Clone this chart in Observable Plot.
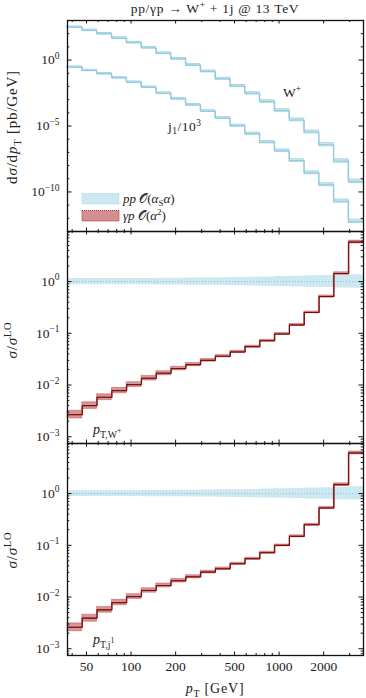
<!DOCTYPE html>
<html><head><meta charset="utf-8">
<script src="https://cdn.jsdelivr.net/npm/d3@7"></script>
<script src="https://cdn.jsdelivr.net/npm/@observablehq/plot@0.6"></script>
<style>
body{margin:0;background:#fff;}
#wrap{position:relative;width:366px;height:698px;overflow:hidden;background:#fff;}
#wrap svg{position:absolute;left:0;}
</style></head><body><div id="wrap"></div>
<script>
// ---- data ----
const binEdges = [37.2, 46.8, 58.9, 74.2, 93.4, 117.6, 148.0, 186.4, 234.6, 295.4, 371.8, 468.1, 589.3, 741.9, 934.0, 1175.8, 1480.3, 1863.6, 2346.2, 2953.7, 3718.5];
// d sigma / d pT [pb/GeV]
const wplusXsec = [309, 178, 98, 46, 21, 8.5, 3.3, 1.25, 0.42, 0.138, 0.038, 0.0107, 0.0030, 7.2e-4, 1.5e-4, 2.9e-5, 3.5e-6, 3.8e-7, 2.2e-8, 6.3e-10];
const jet1Xsec = [0.29, 0.162, 0.091, 0.045, 0.021, 0.0087, 0.0031, 0.00115, 4.0e-4, 1.35e-4, 4.0e-5, 1.05e-5, 2.6e-6, 5.9e-7, 1.35e-7, 2.4e-8, 2.8e-9, 3.5e-10, 2.0e-11, 5.8e-13];
// pp O(as a) ratio band (lower / upper)
const ppLoW = [0.87,0.87,0.87,0.87,0.87,0.87,0.86,0.86,0.85,0.85,0.84,0.83,0.82,0.81,0.80,0.79,0.78,0.77,0.75,0.74];
const ppHiW = [1.15,1.15,1.15,1.15,1.15,1.15,1.16,1.16,1.17,1.18,1.19,1.20,1.21,1.23,1.25,1.27,1.29,1.31,1.34,1.36];
const ppLoJ = [0.88,0.88,0.88,0.88,0.88,0.87,0.87,0.87,0.86,0.86,0.85,0.84,0.83,0.82,0.81,0.80,0.79,0.78,0.76,0.75];
const ppHiJ = [1.14,1.14,1.14,1.14,1.14,1.15,1.15,1.16,1.16,1.17,1.18,1.19,1.20,1.22,1.24,1.26,1.28,1.30,1.33,1.35];
// gamma p O(a^2) ratio to LO and relative band half-width
const gpRatioW = [0.00267, 0.0040, 0.0058, 0.0078, 0.0102, 0.0135, 0.0169, 0.0208, 0.0248, 0.0300, 0.0359, 0.0436, 0.0552, 0.072, 0.097, 0.145, 0.253, 0.514, 1.43, 5.8];
const gpErrW = [0.19,0.16,0.14,0.13,0.115,0.11,0.095,0.085,0.075,0.065,0.055,0.05,0.045,0.045,0.045,0.045,0.045,0.05,0.06,0.07];
const gpRatioJ = [0.0026, 0.0039, 0.00565, 0.0078, 0.0102, 0.0134, 0.0167, 0.0206, 0.0246, 0.0303, 0.0352, 0.044, 0.055, 0.072, 0.0995, 0.149, 0.25, 0.526, 1.49, 6.1];
const gpErrJ = [0.19,0.17,0.14,0.13,0.115,0.105,0.095,0.085,0.075,0.065,0.06,0.05,0.045,0.045,0.045,0.045,0.045,0.05,0.06,0.07];
// ticks
const xMajorTicks = [50, 100, 200, 500, 1000, 2000];
const xMajorLabels = ["50", "100", "200", "500", "1000", "2000"];
const xMinorTicks = [40, 60, 70, 80, 90, 300, 400, 600, 700, 800, 900, 3000];
const topMajorTicks = [1, 1e-5, 1e-10];
const topMajorLabels = ["10^0", "10^−5", "10^−10"];
const topMinorTicks = [1e3,1e2,1e1,1e-1,1e-2,1e-3,1e-4,1e-6,1e-7,1e-8,1e-9,1e-11,1e-12,1e-13];
const ratioMajorTicks = [1, 0.1, 0.01, 0.001];
const ratioMajorLabels = ["10^0", "10^−1", "10^−2", "10^−3"];
const ratioMinorMult = [2,3,4,5,6,7,8,9];
const ratioDecades = [1e-4, 1e-3, 1e-2, 1e-1, 1];

const FONT = "'Liberation Serif', 'DejaVu Serif', serif";
const TXT = "#222";
const W = 366, ML = 67, MR = 3, FW = W - ML - MR;
const xDomain = [binEdges[0], binEdges[binEdges.length - 1]];
const ratioDomain = [7.4e-4, 9.3];
const ratioMinor = ratioDecades.flatMap(d => ratioMinorMult.map(m => m * d)).filter(v => v > ratioDomain[0] && v < ratioDomain[1]);

function rowsOf(vals, f) {
  return binEdges.map((e, i) => { const k = Math.min(i, vals.length - 1); return Object.assign({x: e}, f(k)); });
}

function frameMarks(H, yMajor, yMinor, yLabels, showXLabels) {
  const marks = [
    Plot.tickX(xMajorTicks, {x: d => d, insetTop: H - 3.5, stroke: "#111"}),
    Plot.tickX(xMajorTicks, {x: d => d, insetBottom: H - 3.5, stroke: "#111"}),
    Plot.tickX(xMinorTicks, {x: d => d, insetTop: H - 2, stroke: "#111"}),
    Plot.tickX(xMinorTicks, {x: d => d, insetBottom: H - 2, stroke: "#111"}),
    Plot.tickY(yMajor, {y: d => d, insetRight: FW - 4.5, stroke: "#111"}),
    Plot.tickY(yMajor, {y: d => d, insetLeft: FW - 4.5, stroke: "#111"}),
    Plot.tickY(yMinor, {y: d => d, insetRight: FW - 2.3, stroke: "#111"}),
    Plot.tickY(yMinor, {y: d => d, insetLeft: FW - 2.3, stroke: "#111"}),
    Plot.frame({stroke: "#111", strokeWidth: 1.3}),
    Plot.text(yMajor, {y: d => d, text: (d, i) => yLabels[i], frameAnchor: "left", dx: -8, textAnchor: "end", fontSize: 13.5, fill: TXT})
  ];
  if (showXLabels) marks.push(Plot.text(xMajorTicks, {x: d => d, text: (d, i) => xMajorLabels[i], frameAnchor: "bottom", dy: 15, fontSize: 13.5, fill: TXT}));
  return marks;
}

function mkPlot({height, marginTop, marginBottom, yDomain, marks}) {
  const p = Plot.plot({
    width: W, height, marginLeft: ML, marginRight: MR, marginTop, marginBottom,
    x: {type: "log", domain: xDomain, axis: null},
    y: {type: "log", domain: yDomain, axis: null},
    style: {background: "transparent", overflow: "visible", fontFamily: FONT},
    marks
  });
  // render "10^k" tick labels with a real superscript
  d3.select(p).selectAll("text").each(function () {
    const m = this.textContent.match(/^10\^(.+)$/);
    if (!m) return;
    const t = d3.select(this);
    t.text("");
    t.append("tspan").text("10");
    t.append("tspan").attr("dy", -5.5).attr("font-size", 9.5).text(m[1]);
  });
  return p;
}

const blueFill = "#cde8f1", blueLine = "#a6d5e6", blueDot = "#82c0d6";
const redFill = "#c46a6a", redLine = "#a82424", redDot = "#6e0a0a";

// --- panel 1 ---
const H1 = 211;
const wRows = rowsOf(wplusXsec, k => ({v: wplusXsec[k], lo: wplusXsec[k] * ppLoW[k], hi: wplusXsec[k] * ppHiW[k]}));
const jRows = rowsOf(jet1Xsec, k => ({v: jet1Xsec[k], lo: jet1Xsec[k] * ppLoJ[k], hi: jet1Xsec[k] * ppHiJ[k]}));
const p1 = mkPlot({
  height: 20 + H1 + 1, marginTop: 20, marginBottom: 1, yDomain: [1e-13, 1e3],
  marks: [
    Plot.areaY(wRows, {x: "x", y1: "lo", y2: "hi", curve: "step-after", fill: blueFill, stroke: blueLine, strokeWidth: 1}),
    Plot.line(wRows, {x: "x", y: "v", curve: "step-after", stroke: blueDot, strokeWidth: 1, strokeDasharray: "1,1.5"}),
    Plot.areaY(jRows, {x: "x", y1: "lo", y2: "hi", curve: "step-after", fill: blueFill, stroke: blueLine, strokeWidth: 1}),
    Plot.line(jRows, {x: "x", y: "v", curve: "step-after", stroke: blueDot, strokeWidth: 1, strokeDasharray: "1,1.5"}),
    ...frameMarks(H1, topMajorTicks, topMinorTicks, topMajorLabels, false)
  ]
});

function ratioMarks(ratio, err, lo, hi) {
  const rows = rowsOf(ratio, k => ({r: ratio[k], rlo: ratio[k] / (1 + err[k]), rhi: ratio[k] * (1 + err[k]), blo: lo[k], bhi: hi[k]}));
  return [
    Plot.areaY(rows, {x: "x", y1: "blo", y2: "bhi", curve: "step-after", fill: blueFill}),
    Plot.ruleY([1], {stroke: blueDot, strokeWidth: 1, strokeDasharray: "1,2"}),
    Plot.areaY(rows, {x: "x", y1: "rlo", y2: "rhi", curve: "step-after", fill: redFill, fillOpacity: 0.7, stroke: redLine, strokeWidth: 0.7, strokeDasharray: "1,1", strokeOpacity: 0.55}),
    Plot.line(rows, {x: "x", y: "r", curve: "step-after", stroke: redLine, strokeWidth: 1.1}),
    Plot.line(rows, {x: "x", y: "r", curve: "step-after", stroke: redDot, strokeWidth: 1, strokeDasharray: "1,1"})
  ];
}

const H2 = 212;
const p2 = mkPlot({
  height: 1 + H2 + 1, marginTop: 1, marginBottom: 1, yDomain: ratioDomain,
  marks: [...ratioMarks(gpRatioW, gpErrW, ppLoW, ppHiW), ...frameMarks(H2, ratioMajorTicks, ratioMinor, ratioMajorLabels, false)]
});
const H3 = 212;
const p3 = mkPlot({
  height: 1 + H3 + 43, marginTop: 1, marginBottom: 43, yDomain: ratioDomain,
  marks: [...ratioMarks(gpRatioJ, gpErrJ, ppLoJ, ppHiJ), ...frameMarks(H3, ratioMajorTicks, ratioMinor, ratioMajorLabels, true)]
});

const wrap = document.getElementById("wrap");
[[p1, 0], [p2, 230], [p3, 442]].forEach(([p, top]) => { p.style.top = top + "px"; wrap.appendChild(p); });

// ---- rich text annotations ----
function rich(svg, x, y, parts, {size = 13, anchor = "start", rotate = 0, spacing = 0} = {}) {
  const t = d3.select(svg).append("text")
    .attr("transform", `translate(${x},${y}) rotate(${rotate})`)
    .attr("text-anchor", anchor).attr("font-family", FONT).attr("font-size", size)
    .attr("letter-spacing", spacing)
    .attr("fill", TXT).style("white-space", "pre");
  let off = 0;
  for (const p of parts) {
    const s = typeof p === "string" ? {t: p} : p;
    let target = 0, fs = size;
    if (s.sup) { target = -size * 0.38; fs = size * 0.7; }
    if (s.sub) { target = size * 0.25; fs = size * 0.7; }
    if (s.subsup) { target = size * 0.25 - size * 0.32; fs = size * 0.55; }
    const ts = t.append("tspan").text(s.t);
    if (target !== off) { ts.attr("dy", target - off); off = target; }
    if (fs !== size) ts.attr("font-size", fs);
    if (s.i) ts.attr("font-style", "italic");
  }
  return t;
}
// title
rich(p1, 215, 13, ["pp/γp → W", {t: "+", sup: true}, " + 1j @ 13 TeV"], {anchor: "middle", size: 13.5, spacing: 0.7});
// axis titles
rich(p1, 17, 127, ["d", {t: "σ", i: true}, "/d", {t: "p", i: true}, {t: "T", sub: true}, " [pb/GeV]"], {anchor: "middle", rotate: -90, size: 15, spacing: 0.8});
rich(p2, 17, 340 - 230, [{t: "σ", i: true}, "/", {t: "σ", i: true}, {t: "LO", sup: true}], {anchor: "middle", rotate: -90, size: 15, spacing: 0.8});
rich(p3, 17, 550 - 442, [{t: "σ", i: true}, "/", {t: "σ", i: true}, {t: "LO", sup: true}], {anchor: "middle", rotate: -90, size: 15, spacing: 0.8});
rich(p3, 215, 693 - 442, [{t: "p", i: true}, {t: "T", sub: true}, " [GeV]"], {anchor: "middle", size: 14, spacing: 0.8});
// curve labels
rich(p1, 283, 97, ["W", {t: "+", sup: true}], {size: 13.5});
rich(p1, 168, 131, ["j", {t: "1", sub: true}, "/10", {t: "3", sup: true}], {size: 13.5, spacing: 0.5});
// panel labels
rich(p2, 93, 434 - 230, [{t: "p", i: true}, {t: "T,W", sub: true}, {t: "+", subsup: true}], {size: 14});
rich(p3, 93, 644 - 442, [{t: "p", i: true}, {t: "T,j", sub: true}, {t: "1", subsup: true}], {size: 14});
// legend
const g1 = d3.select(p1);
g1.append("rect").attr("x", 82).attr("y", 193.5).attr("width", 37).attr("height", 10.5)
  .attr("fill", blueFill).attr("stroke", blueLine).attr("stroke-width", 1).attr("stroke-dasharray", "1,1");
g1.append("rect").attr("x", 82).attr("y", 210.5).attr("width", 37).attr("height", 10.5)
  .attr("fill", redFill).attr("fill-opacity", 0.75).attr("stroke", redLine).attr("stroke-width", 1).attr("stroke-dasharray", "1,1");
rich(p1, 123, 202.5, [{t: "pp", i: true}, " 𝒪(", {t: "α", i: true}, {t: "S", sub: true}, {t: "α", i: true}, ")"]);
rich(p1, 123, 219.5, [{t: "γp", i: true}, " 𝒪(", {t: "α", i: true}, {t: "2", sup: true}, ")"]);
</script></body></html>
